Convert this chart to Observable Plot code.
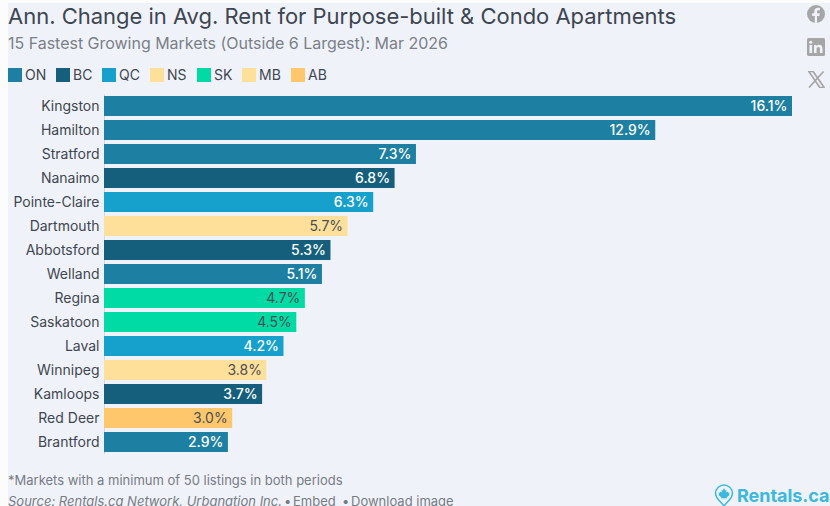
<!DOCTYPE html>
<html><head><meta charset="utf-8">
<script src="https://cdn.jsdelivr.net/npm/d3@7"></script>
<script src="https://cdn.jsdelivr.net/npm/@observablehq/plot@0.6"></script>
<style>
html,body{margin:0;padding:0;background:#fcfcfc;width:830px;height:506px;overflow:hidden;font-family:Inter,sans-serif}
#card{position:absolute;left:8px;top:3px;width:822px;height:503px;background:#eff3f9}
.t{position:absolute;white-space:nowrap}
#title{left:8px;top:2px;font-size:22px;line-height:28px;color:#3d4551;letter-spacing:-.015px}
#sub{left:8px;top:33px;font-size:16px;line-height:20px;color:#7b7f88;letter-spacing:-.02px}
#legend{position:absolute;left:8px;top:67px;height:15px;font-size:14px;color:#3f4650}
.k{position:absolute;top:0;display:flex;align-items:center;height:15px}
.k i{display:block;width:14px;height:14px;margin-right:3px}
#chart{position:absolute;left:0;top:94px}
#note{left:8px;top:472px;font-size:13px;line-height:17px;color:#777b84}
.src{top:493px;font-size:13px;line-height:17px;color:#777b84}
#logo{left:737px;top:485px;font-size:18px;line-height:22px;font-weight:700;color:#3db8dc;letter-spacing:-.05px}
svg.ic{position:absolute}
</style></head>
<body>
<div id="card"></div>
<div class="t" id="title">Ann. Change in Avg. Rent for Purpose-built &amp; Condo Apartments</div>
<div class="t" id="sub">15 Fastest Growing Markets (Outside 6 Largest): Mar 2026</div>
<div id="legend"></div>
<div id="chart"></div>
<div class="t" id="note">*Markets with a minimum of 50 listings in both periods</div>
<div class="t src" style="left:8px"><i>Source: Rentals.ca Network, Urbanation Inc.</i></div>
<div class="t src" style="left:284px">•</div>
<div class="t src" style="left:293px">Embed</div>
<div class="t src" style="left:342px">•</div>
<div class="t src" style="left:351px">Download image</div>
<svg class="ic" style="left:807px;top:5px" width="18" height="18" viewBox="0 0 18 18"><circle cx="9" cy="9" r="9" fill="#a6a6a6"/><path d="M10 18V11h2.400l.4-2.700H10V6.600c0-.8.4-1.400 1.500-1.400h1.400V2.900c-.6-.1-1.300-.2-2-.2-2.200 0-3.600 1.300-3.600 3.600v2H5.200V11h2.600v7z" fill="#eff3f9"/></svg>
<svg class="ic" style="left:807px;top:38px" width="18" height="18" viewBox="0 0 18 18"><rect width="18" height="18" rx="1.500" fill="#a6a6a6"/><rect x="2.500" y="7" width="2.600" height="8" fill="#eff3f9"/><circle cx="3.800" cy="4.300" r="1.500" fill="#eff3f9"/><path d="M7 7h2.500v1.200c.5-.8 1.400-1.400 2.600-1.400 2.400 0 3.400 1.500 3.400 4V15h-2.600v-3.800c0-1.300-.4-2.200-1.500-2.200-1.200 0-1.800.9-1.800 2.200V15H7z" fill="#eff3f9"/></svg>
<svg class="ic" style="left:808px;top:71px" width="17" height="17" viewBox="0 0 17 17"><path d="M.8.500h4.300l11 16h-4.300zM15.500.500L1 16.500" fill="none" stroke="#a6a6a6" stroke-width="1.700"/></svg>
<svg class="ic" style="left:714px;top:484px" width="20" height="24" viewBox="0 0 20 24"><path d="M10 22C6 17 1.500 14 1.500 9.500a8.500 8.500 0 0 1 17 0C18.500 14 14 17 10 22z" fill="none" stroke="#3db8dc" stroke-width="1.500"/><path d="M10 4l1.200 2.400 1.300-.6-.4 2.700 1.600-1 .5 1.300 1.300-.3-.6 2 .8.500-3 2.300.3 1.100-2.700-.3-.1 1.600h-.4l-.1-1.600-2.700.3.300-1.100-3-2.300.8-.5-.6-2 1.300.3.500-1.300 1.600 1-.4-2.700 1.300.6z" fill="#3db8dc"/></svg>
<div class="t" id="logo">Rentals.ca</div>
<script>
const markets = ["Kingston","Hamilton","Stratford","Nanaimo","Pointe-Claire","Dartmouth","Abbotsford","Welland","Regina","Saskatoon","Laval","Winnipeg","Kamloops","Red Deer","Brantford"];
const changes = [16.1,12.9,7.3,6.8,6.3,5.7,5.3,5.1,4.7,4.5,4.2,3.8,3.7,3.0,2.9];
const provinces = ["ON","ON","ON","BC","QC","NS","BC","ON","SK","SK","QC","MB","BC","AB","ON"];
const legendKeys = ["ON","BC","QC","NS","SK","MB","AB"];
const legendColors = ["#1d80a2","#155f7c","#16a0cc","#ffe09a","#00dba6","#ffe09a","#ffc76c"];
const legendLefts = [8,56,102,150,197,242,291];
const darkLabel = new Set(["NS","SK","MB","AB"]);
const rows = markets.map((m,i)=>({market:m,change:changes[i],prov:provinces[i]}));

const lg = document.getElementById("legend");
legendKeys.forEach((k,i)=>{
  const d=document.createElement("div");d.className="k";d.style.left=(legendLefts[i]-8)+"px";
  d.innerHTML=`<i style="background:${legendColors[i]}"></i><span>${k}</span>`;lg.appendChild(d);
});

const chart = Plot.plot({
  width:830,height:360,marginLeft:104,marginRight:0,marginTop:0,marginBottom:0,
  style:{background:"transparent",fontFamily:"Inter, sans-serif"},
  x:{domain:[0,16.1],range:[104,792],axis:null},
  y:{domain:markets,padding:0,axis:null},
  color:{domain:legendKeys,range:legendColors},
  marks:[
    Plot.ruleX([0],{stroke:"#d5d8dd",strokeWidth:1}),
    Plot.barX(rows,{y:"market",x:"change",fill:"prov",insetTop:2,insetBottom:2}),
    Plot.text(rows,{y:"market",x:0,text:"market",textAnchor:"end",dx:-5,fontSize:14,fill:"#3f4650"}),
    Plot.text(rows.filter(d=>!darkLabel.has(d.prov)),{y:"market",x:"change",text:d=>d.change.toFixed(1)+"%",textAnchor:"end",dx:-5,fontSize:14,fontWeight:500,fill:"#ffffff"}),
    Plot.text(rows.filter(d=>darkLabel.has(d.prov)),{y:"market",x:"change",text:d=>d.change.toFixed(1)+"%",textAnchor:"end",dx:-5,fontSize:14,fontWeight:400,fill:"#4a4f55"})
  ]
});
document.getElementById("chart").appendChild(chart);
</script>
</body></html>
